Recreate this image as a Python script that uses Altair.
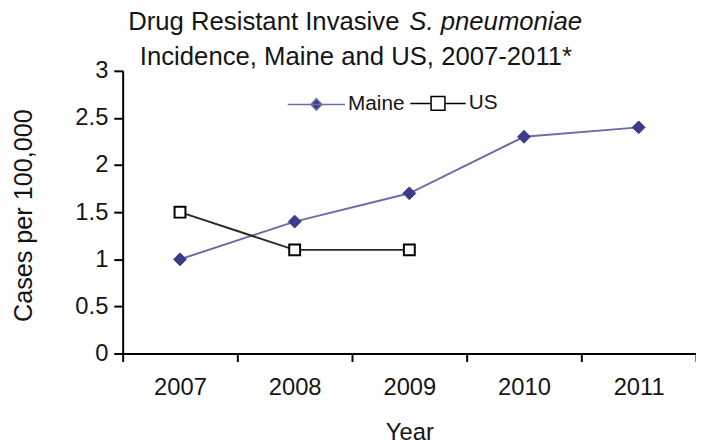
import altair as alt
import pandas as pd

# ---- data ----
years = ["2007", "2008", "2009", "2010", "2011"]
maine = [1.0, 1.4, 1.7, 2.3, 2.4]
us_years = ["2007", "2008", "2009"]
us = [1.5, 1.1, 1.1]
series_names = ["Maine", "US"]
y_ticks = [0, 0.5, 1, 1.5, 2, 2.5, 3]

title_line1_plain = ["Drug Resistant Invasive"]
title_line1_italic = ["S. pneumoniae"]
title_line2 = ["Incidence, Maine and US, 2007-2011*"]
x_title = "Year"
y_title = "Cases per 100,000"

# ---- styles ----
MAINE_LINE = "#6c6ca8"
MAINE_MARK = "#3b3b8c"
US_LINE = "#2a2a2a"
TEXT = "#151515"
FONT = "Liberation Sans"

MAINE_PATH = "M-1,0L1,0M0,-0.2L0.19,0L0,0.2L-0.19,0Z"
US_PATH = "M-1,0L-0.25,0M0.25,0L1,0M-0.25,-0.25L0.25,-0.25L0.25,0.25L-0.25,0.25Z"

df = pd.DataFrame({
    "year": years + us_years,
    "series": ["Maine"] * len(years) + ["US"] * len(us_years),
    "value": maine + us,
})

x_enc = alt.X(
    "year:N", sort=years,
    scale=alt.Scale(type="band", paddingInner=0, paddingOuter=0),
    axis=alt.Axis(
        title=x_title, labelAngle=0, tickBand="extent", grid=False,
        domainColor="black", domainWidth=2, tickColor="black", tickWidth=2,
        tickSize=8, labelPadding=14, labelFont=FONT, labelFontSize=24,
        labelColor=TEXT, titleFont=FONT, titleFontSize=24,
        titleFontWeight="normal", titleColor=TEXT,
        titleBaseline="alphabetic", titleY=87,
    ),
)
y_enc = alt.Y(
    "value:Q",
    scale=alt.Scale(domain=[0, 3], nice=False),
    axis=alt.Axis(
        title=y_title, values=y_ticks, format="~g", grid=False,
        domainColor="black", domainWidth=2, tickColor="black", tickWidth=2,
        tickSize=9, labelPadding=6, labelFont=FONT, labelFontSize=24,
        labelColor=TEXT, titleFont=FONT, titleFontSize=25.5,
        titleFontWeight="normal", titleColor=TEXT, titleAngle=270,
        titleBaseline="alphabetic", titleAlign="center", titleX=-92, titleY=146,
    ),
)


def legend_for(x, size):
    return alt.Legend(
        orient="none", legendX=x, legendY=4, direction="horizontal", title=None,
        padding=0, symbolSize=size, symbolOpacity=1, labelFont=FONT,
        labelFontSize=21, labelColor=TEXT, labelOffset=2,
    )


base = alt.Chart(df)
maine_df = base.transform_filter("datum.series === 'Maine'")
us_df = base.transform_filter("datum.series === 'US'")

maine_line = maine_df.mark_line(color=MAINE_LINE, strokeWidth=2).encode(x=x_enc, y=y_enc)
us_line = us_df.mark_line(color=US_LINE, strokeWidth=2).encode(x=x_enc, y=y_enc)

maine_pts = maine_df.mark_point(
    shape="diamond", fill=MAINE_MARK, stroke=MAINE_MARK, strokeWidth=1, size=169,
    opacity=1, fillOpacity=1,
).encode(x=x_enc, y=y_enc)

us_pts = us_df.mark_point(
    shape="square", fill="white", stroke="black", strokeWidth=2, size=121,
    opacity=1, fillOpacity=1,
).encode(x=x_enc, y=y_enc)

# legend carriers (zero-size marks that only provide the legend entries)
maine_key = maine_df.mark_point(
    fill=MAINE_MARK, stroke=MAINE_LINE, strokeWidth=2, size=0, fillOpacity=1,
).encode(
    x=x_enc, y=y_enc,
    shape=alt.Shape("series:N", scale=alt.Scale(domain=["Maine"], range=[MAINE_PATH]),
                    legend=legend_for(166, 3364)),
)
us_key = us_df.mark_point(
    fill="white", stroke="black", strokeWidth=2, size=0, fillOpacity=1,
).encode(
    x=x_enc, y=y_enc,
    shape=alt.Shape("series:N", scale=alt.Scale(domain=["US"], range=[US_PATH]),
                    legend=legend_for(290, 3136)),
)

t1 = alt.Chart(pd.DataFrame({"t": title_line1_plain})).mark_text(
    align="right", baseline="alphabetic", font=FONT, fontSize=26, color=TEXT
).encode(text="t:N", x=alt.value(280), y=alt.value(-41))

t2 = alt.Chart(pd.DataFrame({"t": title_line1_italic})).mark_text(
    align="left", baseline="alphabetic", font=FONT, fontSize=26,
    fontStyle="italic", color=TEXT
).encode(text="t:N", x=alt.value(290), y=alt.value(-41))

t3 = alt.Chart(pd.DataFrame({"t": title_line2})).mark_text(
    align="center", baseline="alphabetic", font=FONT, fontSize=26, color=TEXT
).encode(text="t:N", x=alt.value(236), y=alt.value(-6))

chart = alt.layer(
    maine_line, us_line, maine_pts, us_pts, maine_key, us_key, t1, t2, t3
).resolve_scale(shape="independent").properties(
    width=580,
    height=286,
    autosize=alt.AutoSizeParams(type="none"),
    padding={"left": 116, "top": 61, "right": 0, "bottom": 92},
).configure_view(stroke=None)

chart.save("out.html", embed_options={"renderer": "svg", "actions": False})
